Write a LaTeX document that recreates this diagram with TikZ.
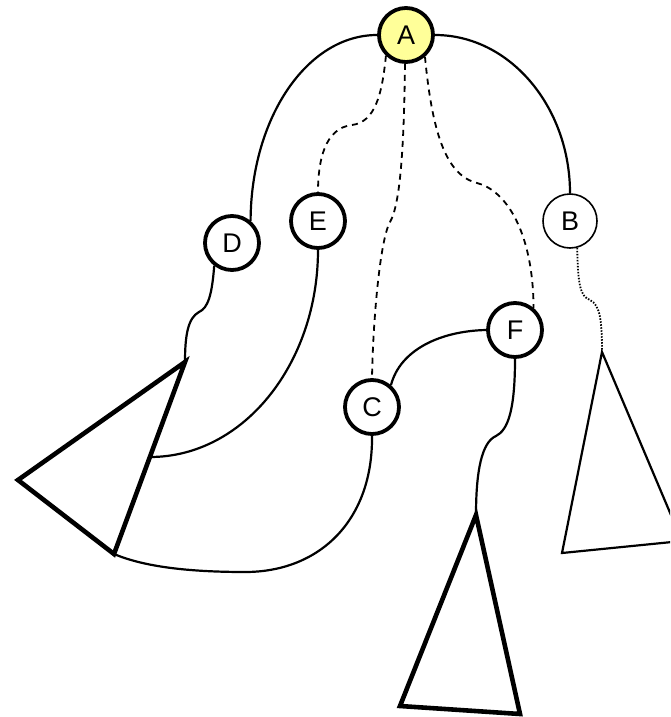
\documentclass[tikz,border=0pt]{standalone}
\usepackage{fontspec}
\setmainfont{Liberation Sans}
\definecolor{nodeyellow}{HTML}{FFFF99}
\begin{document}
\begin{tikzpicture}[x=1pt,y=-1pt,
  vtx/.style={circle, draw, line width=3.8pt, fill=white, minimum size=54pt, inner sep=0pt, font=\fontsize{27}{30}\selectfont},
  vthin/.style={vtx, line width=1.6pt},
  edge/.style={line width=2.2pt},
  dashedge/.style={line width=1.8pt, dash pattern=on 6pt off 5pt},
  dotedge/.style={line width=1.8pt, dash pattern=on 1.5pt off 1.5pt},
  trithick/.style={line width=4.6pt, line join=miter},
  trithin/.style={line width=2.2pt, line join=miter}]
\useasboundingbox (0,0) rectangle (670,717);
\clip (0,0) rectangle (670,717);
% nodes
\node[vtx, fill=nodeyellow] (A) at (406,35) {A};
\node[vtx] (D) at (232,243) {D};
\node[vtx] (E) at (318,221) {E};
\node[vthin] (B) at (570,221) {B};
\node[vtx] (C) at (372,407) {C};
\node[vtx] (F) at (515,330) {F};
% triangle vertices
\coordinate (L1) at (185,362);
\coordinate (L2) at (18,480);
\coordinate (L3) at (114,554);
\coordinate (Lm) at (150,457);
\coordinate (T1) at (476,515);
\coordinate (T2) at (400,706);
\coordinate (T3) at (520,714);
\coordinate (R1) at (602,352);
\coordinate (R2) at (562,553);
\coordinate (R3) at (682,541);
% triangles
\draw[trithick] (L1) -- (L2) -- (L3) -- cycle;
\draw[trithick] (T1) -- (T2) -- (T3) -- cycle;
\draw[trithin] (R1) -- (R2) -- (R3) -- cycle;
% edges from A
\draw[edge] (A.west) .. controls (307,35) and (251,118) .. (D.50);
\draw[edge] (A.east) .. controls (510,35) and (570,107) .. (B.north);
\draw[dashedge] (A.226) .. controls (382,95) and (375,122) .. (352,125)
  .. controls (325,128) and (318,160) .. (E.north);
\draw[dashedge] (A.268) .. controls (404,150) and (400,205) .. (390,222)
  .. controls (380,240) and (373,320) .. (C.north);
\draw[dashedge] (A.311) .. controls (432,130) and (445,175) .. (477,183)
  .. controls (505,190) and (533,230) .. (F.50);
% other edges
\draw[dotedge] (B.285) .. controls (578,285) and (580,296) .. (590,300)
  .. controls (600,305) and (602,320) .. (R1);
\draw[edge] (D.232) .. controls (212,295) and (208,308) .. (199,312)
  .. controls (188,318) and (185,335) .. (L1);
\draw[edge] (E.south) .. controls (318,363) and (244,457) .. (Lm);
\draw[edge] (C.south) .. controls (373,520) and (320,572) .. (245,572)
  .. controls (180,572) and (140,565) .. (L3);
\draw[edge] (C.49) .. controls (400,350) and (440,331) .. (F.west);
\draw[edge] (F.south) .. controls (515,410) and (508,430) .. (496,436)
  .. controls (482,442) and (476,470) .. (T1);
\end{tikzpicture}
\end{document}
